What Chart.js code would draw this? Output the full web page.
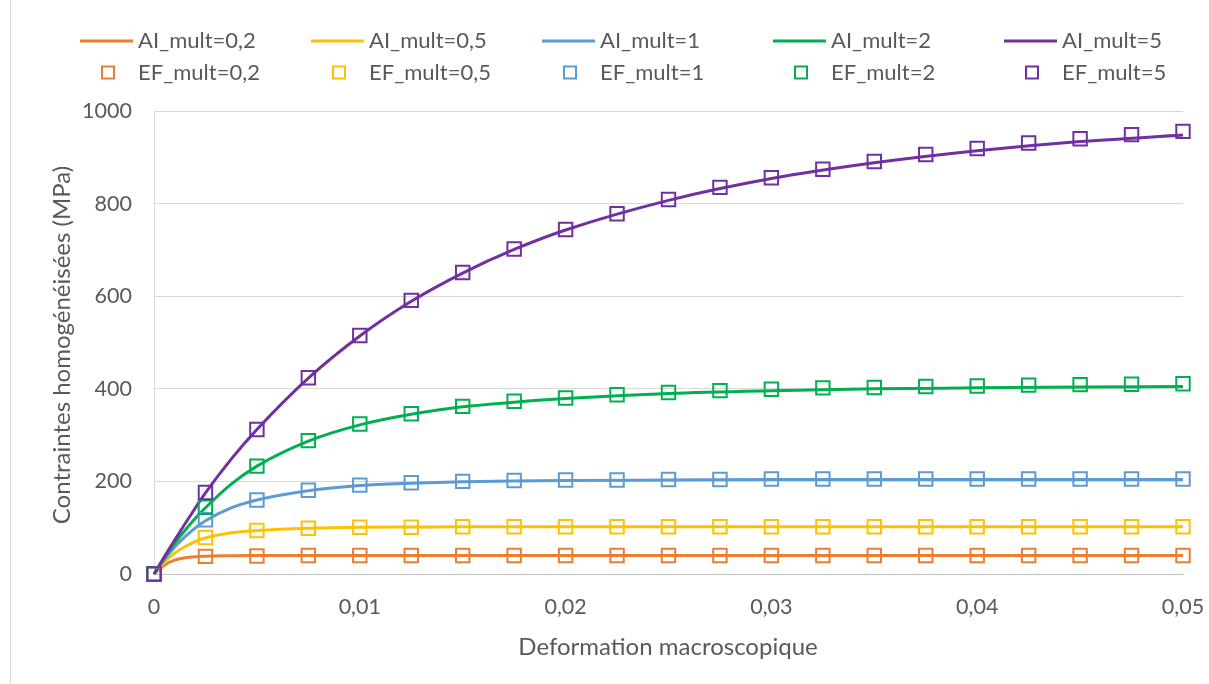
<!DOCTYPE html>
<html><head><meta charset="utf-8">
<script src="https://cdn.jsdelivr.net/npm/chart.js@4"></script>
<style>html,body{margin:0;padding:0;background:#fff;}#wrap{position:relative;width:1209px;height:684px;}</style>
</head><body><div id="wrap"><canvas id="c" width="1209" height="684"></canvas></div>
<script>
// ---- data ----
const efStrain = [0,0.0025,0.005,0.0075,0.01,0.0125,0.015,0.0175,0.02,0.0225,0.025,0.0275,0.03,0.0325,0.035,0.0375,0.04,0.0425,0.045,0.0475,0.05];
const ef02 = [0,38,39,40,40,40,40,40,40,40,40,40,40,40,40,40,40,40,40,40,40];
const ef05 = [0,79,94,99,101,101,102,102,102,102,102,102,102,102,102,102,102,102,102,102,102];
const ef1  = [0,117,160,181,192,197,200,202,203,203,204,204,205,205,205,205,205,205,205,205,205];
const ef2  = [0,144,233,288,324,346,362,373,380,387,392,396,399,402,403,405,406,408,409,410,411];
const ef5  = [0,176,312,424,515,591,651,702,744,778,809,835,856,874,891,906,919,931,940,949,956];

const aiStrain = [0,0.0005,0.001,0.0015,0.002,0.0025,0.00375,0.005,0.0075,0.01,0.0125,0.015,0.0175,0.02,0.025,0.03,0.035,0.04,0.045,0.05];
const ai02 = [0,19,30,35,37.5,38.5,39.5,40,40,40,40,40,40,40,40,40,40,40,40,40];
const ai05 = [0,25,45,59,70,78,89,94,99,101,101.5,102,102,102,102,102,102,102,102,102];
const ai1  = [0,31,58,80,99,115,143,160,180,191,196,199,201,202,203,204,204,204,204,204];
const ai2  = [0,34,66,94,120,143,194,233,287,322,345,361,371,379,390,396,400,402,404,405];
const ai5  = [0,37,73,108,142,175,248,312,423,514,589,650,701,743,807,854,888,914,934,948];

const aiLabels = ['AI_mult=0,2','AI_mult=0,5','AI_mult=1','AI_mult=2','AI_mult=5'];
const efLabels = ['EF_mult=0,2','EF_mult=0,5','EF_mult=1','EF_mult=2','EF_mult=5'];
const colors = ['#ED7D31','#FFC000','#5B9BD5','#00B050','#7030A0'];
const xTicks = [0,0.01,0.02,0.03,0.04,0.05];
const yTicks = [0,200,400,600,800,1000];
const xTitle = 'Deformation macroscopique';
const yTitle = 'Contraintes homogénéisées (MPa)';

const TXT = '#595959';
const FONT = 'Lato';
const TICK_SIZE = 21.5;
const LEGEND_SIZE = 22;
const TITLE_SIZE = 24;

const aiSeries = [ai02, ai05, ai1, ai2, ai5];
const efSeries = [ef02, ef05, ef1, ef2, ef5];

const pts = (xs, ys) => xs.map((x, i) => ({x, y: ys[i]}));
const datasets = [];
efSeries.forEach((s, i) => datasets.push({
  label: efLabels[i], data: pts(efStrain, s), showLine: false,
  pointStyle: 'rect', pointRadius: 9.5, pointHoverRadius: 9.5, pointBorderWidth: 2,
  pointBorderColor: colors[i], pointBackgroundColor: 'rgba(0,0,0,0)',
  borderColor: colors[i], backgroundColor: 'rgba(0,0,0,0)', clip: false, order: 4 - i
}));
aiSeries.forEach((s, i) => datasets.push({
  label: aiLabels[i], data: pts(aiStrain, s), showLine: true, pointRadius: 0,
  borderColor: colors[i], borderWidth: 3, cubicInterpolationMode: 'monotone',
  clip: false, order: 10 - i
}));

const fmt = v => v === 0 ? '0' : (+v.toFixed(3)).toString().replace('.', ',');

const extras = {
  id: 'extras',
  beforeDraw(chart) {
    const ctx = chart.ctx;
    ctx.save();
    ctx.strokeStyle = '#d9d9d9'; ctx.lineWidth = 1;
    ctx.beginPath(); ctx.moveTo(10.5, 0); ctx.lineTo(10.5, 684); ctx.stroke();
    ctx.restore();
  },
  afterDraw(chart) {
    const ctx = chart.ctx;
    ctx.save();
    ctx.fillStyle = TXT;
    ctx.textBaseline = 'middle';
    // axis titles
    ctx.font = TITLE_SIZE + 'px ' + FONT;
    ctx.textAlign = 'center';
    ctx.fillText(xTitle, 668, 647);
    ctx.save();
    ctx.translate(62, 345); ctx.rotate(-Math.PI / 2);
    ctx.fillText(yTitle, 0, 0);
    ctx.restore();
    // legend
    const colX = [80, 311, 542, 773, 1004];
    ctx.font = LEGEND_SIZE + 'px ' + FONT;
    ctx.textAlign = 'left';
    for (let i = 0; i < 5; i++) {
      const x0 = colX[i];
      ctx.strokeStyle = colors[i]; ctx.lineWidth = 3;
      ctx.beginPath(); ctx.moveTo(x0, 41); ctx.lineTo(x0 + 53, 41); ctx.stroke();
      ctx.fillStyle = TXT;
      ctx.fillText(aiLabels[i], x0 + 58, 41);
      ctx.lineWidth = 2;
      ctx.strokeRect(x0 + 22, 66.5, 12, 12);
      ctx.fillText(efLabels[i], x0 + 58, 73);
    }
    ctx.restore();
  }
};

new Chart(document.getElementById('c'), {
  type: 'scatter',
  data: { datasets },
  options: {
    responsive: false, animation: false,
    layout: { padding: { left: 0, right: 26, top: 111, bottom: 0 } },
    plugins: { legend: { display: false }, tooltip: { enabled: false } },
    scales: {
      x: {
        type: 'linear', min: 0, max: 0.05,
        afterBuildTicks: s => { s.ticks = xTicks.map(v => ({ value: v })); },
        afterFit: s => { s.height = 110; s.paddingLeft = 0; s.paddingRight = 0; },
        grid: { display: false, drawTicks: false },
        border: { display: true, color: '#bfbfbf', width: 1 },
        ticks: { padding: 20, color: TXT, font: { family: FONT, size: TICK_SIZE }, maxRotation: 0, callback: v => fmt(v) }
      },
      y: {
        type: 'linear', min: 0, max: 1000,
        afterBuildTicks: s => { s.ticks = yTicks.map(v => ({ value: v })); },
        afterFit: s => { s.width = 154; s.paddingTop = 0; s.paddingBottom = 0; },
        grid: { color: '#d9d9d9', drawTicks: false, lineWidth: 1 },
        border: { display: true, color: '#d9d9d9', width: 1 },
        ticks: { padding: 22, color: TXT, font: { family: FONT, size: TICK_SIZE }, callback: v => String(v) }
      }
    }
  },
  plugins: [extras]
});
</script></body></html>
